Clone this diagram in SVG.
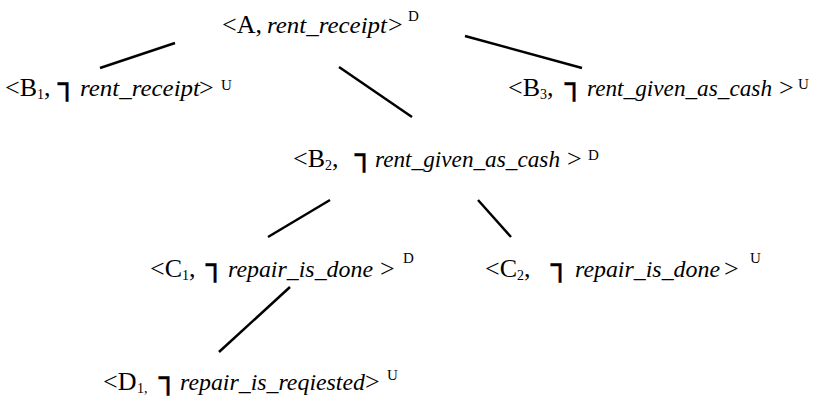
<svg xmlns="http://www.w3.org/2000/svg" width="821" height="401" viewBox="0 0 821 401">
<style>
.r{font-family:"Liberation Serif","Times New Roman",serif;font-size:26px;fill:#000}
.i{font-family:"Liberation Serif","Times New Roman",serif;font-style:italic;font-size:24px;fill:#000}
.s{font-family:"Liberation Serif","Times New Roman",serif;font-size:14px;fill:#000}
.u{font-family:"Liberation Serif","Times New Roman",serif;font-size:15px;fill:#000}
.n{font-family:"DejaVu Sans",sans-serif;font-weight:bold;font-size:30px;fill:#000;stroke:#000;stroke-width:0.5}
.edge{stroke:#000;stroke-width:2.5;fill:none}
</style>
<rect width="821" height="401" fill="#fff"/>
<g id="connectors">
<line class="edge" x1="175" y1="43" x2="100" y2="68"/>
<line class="edge" x1="339" y1="67" x2="412" y2="117"/>
<line class="edge" x1="465" y1="36" x2="582" y2="68"/>
<line class="edge" x1="330" y1="200" x2="268" y2="237"/>
<line class="edge" x1="478" y1="200" x2="511" y2="237"/>
<line class="edge" x1="290" y1="287" x2="219" y2="352"/>
</g>
<g id="nodeA">
<text class="r" x="222" y="33">&lt;A,</text>
<text class="i" x="267" y="33" textLength="120" lengthAdjust="spacingAndGlyphs">rent_receipt</text>
<text class="r" x="388" y="33">&gt;</text>
<text class="u" x="408" y="21">D</text>
</g>
<g id="nodeB1">
<text class="r" x="5" y="96">&lt;B</text>
<text class="s" x="37" y="99">1</text>
<text class="r" x="44" y="96">,</text>
<text class="n" x="58" y="93.5">┐</text>
<text class="i" x="80" y="96" textLength="120" lengthAdjust="spacingAndGlyphs">rent_receipt</text>
<text class="r" x="199" y="96">&gt;</text>
<text class="u" x="221" y="90">U</text>
</g>
<g id="nodeB3">
<text class="r" x="508" y="96">&lt;B</text>
<text class="s" x="540" y="99">3</text>
<text class="r" x="547" y="96">,</text>
<text class="n" x="565" y="93.5">┐</text>
<text class="i" x="587" y="96" textLength="185" lengthAdjust="spacingAndGlyphs">rent_given_as_cash</text>
<text class="r" x="779" y="96">&gt;</text>
<text class="u" x="798" y="89">U</text>
</g>
<g id="nodeB2">
<text class="r" x="293" y="167">&lt;B</text>
<text class="s" x="325" y="170">2</text>
<text class="r" x="332" y="167">,</text>
<text class="n" x="355" y="164.5">┐</text>
<text class="i" x="375" y="167" textLength="185" lengthAdjust="spacingAndGlyphs">rent_given_as_cash</text>
<text class="r" x="567" y="167">&gt;</text>
<text class="u" x="588" y="160">D</text>
</g>
<g id="nodeC1">
<text class="r" x="150" y="277">&lt;C</text>
<text class="s" x="182" y="280">1</text>
<text class="r" x="189" y="277">,</text>
<text class="n" x="206" y="274.5">┐</text>
<text class="i" x="228" y="277" textLength="145" lengthAdjust="spacingAndGlyphs">repair_is_done</text>
<text class="r" x="380" y="277">&gt;</text>
<text class="u" x="403" y="263">D</text>
</g>
<g id="nodeC2">
<text class="r" x="485" y="277">&lt;C</text>
<text class="s" x="517" y="280">2</text>
<text class="r" x="524" y="277">,</text>
<text class="n" x="551" y="274.5">┐</text>
<text class="i" x="575" y="277" textLength="145" lengthAdjust="spacingAndGlyphs">repair_is_done</text>
<text class="r" x="724" y="277">&gt;</text>
<text class="u" x="750" y="263">U</text>
</g>
<g id="nodeD1">
<text class="r" x="103" y="390">&lt;D</text>
<text class="s" x="137" y="393">1,</text>
<text class="n" x="159" y="388">┐</text>
<text class="i" x="180" y="390" textLength="185" lengthAdjust="spacingAndGlyphs">repair_is_reqiested</text>
<text class="r" x="365" y="390">&gt;</text>
<text class="u" x="387" y="380">U</text>
</g>
</svg>
